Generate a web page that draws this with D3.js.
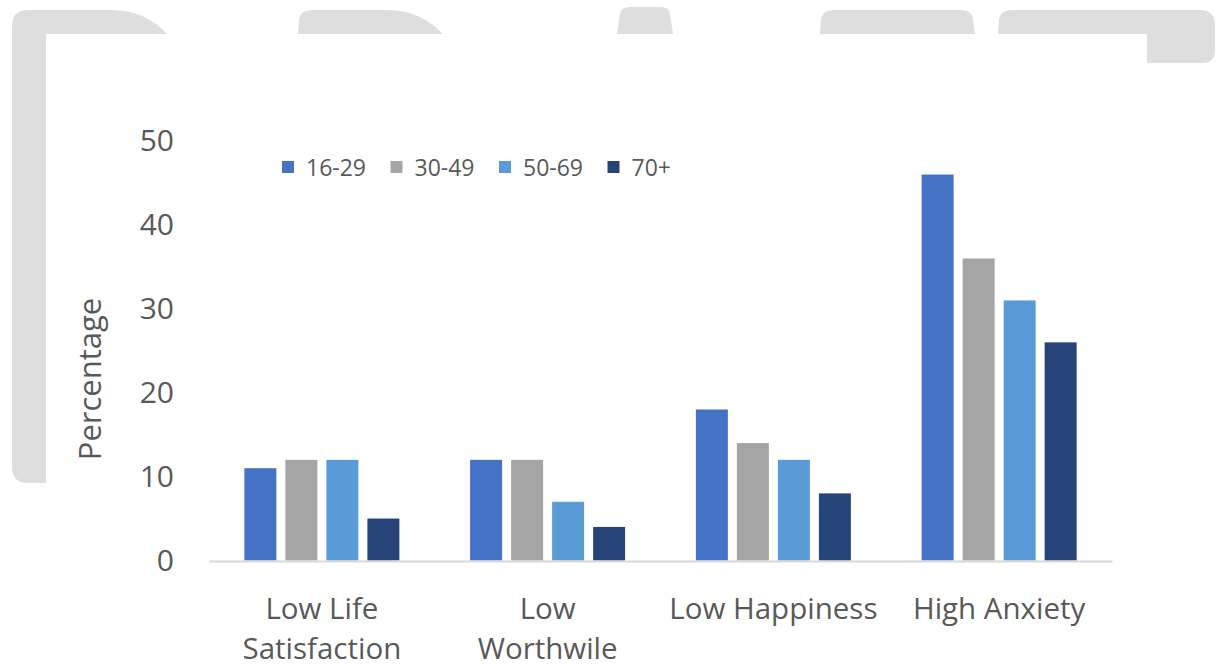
<!DOCTYPE html>
<html>
<head>
<meta charset="utf-8">
<script src="https://cdn.jsdelivr.net/npm/d3@7"></script>
<style>
  html, body { margin: 0; padding: 0; background: #fff; }
  svg { display: block; }
  text { font-family: "Open Sans", "Noto Sans", sans-serif; fill: #595959; }
</style>
</head>
<body>
<svg id="chart" width="1217" height="667"></svg>
<script>
// ---- data ----
const categories = ["Low Life Satisfaction", "Low Worthwile", "Low Happiness", "High Anxiety"];
const categoryLines = [["Low Life", "Satisfaction"], ["Low", "Worthwile"], ["Low Happiness"], ["High Anxiety"]];
const series = ["16-29", "30-49", "50-69", "70+"];
const values1629 = [11, 12, 18, 46];
const values3049 = [12, 12, 14, 36];
const values5069 = [12, 7, 12, 31];
const values70 = [5, 4, 8, 26];
const yTicks = [0, 10, 20, 30, 40, 50];
const colors = ["#4472C4", "#A5A5A5", "#5B9BD5", "#264478"];

const seriesValues = [values1629, values3049, values5069, values70];

const svg = d3.select("#chart");

// ---- decorative watermark shapes in the background ----
const wm = svg.append("g").attr("fill", "#dedede");
wm.append("path").attr("d",
  "M12,26 Q12,10 28,10 L112,10 Q145,10 167,34 L46,34 L46,483 L28,483 Q12,483 12,467 Z");
wm.append("path").attr("d",
  "M298,34 L299,20 Q300,10 312,10 L388,10 Q420,10 443,34 Z");
wm.append("path").attr("d",
  "M617,34 L620,14 Q621,7 630,7 L661,7 Q669,7 670,14 L673,34 Z");
wm.append("path").attr("d",
  "M820,34 L821,20 Q822,10 834,10 L962,10 Q972,10 973,20 L975,34 Z");
wm.append("path").attr("d",
  "M998,34 L999,20 Q1000,10 1012,10 L1200,10 Q1215,10 1215,25 L1215,50 Q1215,63 1202,63 L1147,63 L1147,34 Z");

// ---- scales ----
const x0 = d3.scaleBand().domain(categories).range([209, 1112]).paddingInner(0.3134).paddingOuter(0.1567);
const x1 = d3.scaleBand().domain(series).range([0, x0.bandwidth()]).paddingInner(0.22);
const y = d3.scaleLinear().domain([0, 50]).range([560.5, 141]);
const color = d3.scaleOrdinal().domain(series).range(colors);

// ---- y axis ----
const yAxis = svg.append("g")
  .attr("transform", "translate(182,0)")
  .call(d3.axisLeft(y).tickValues(yTicks).tickSize(0).tickPadding(8));
yAxis.select(".domain").remove();
yAxis.selectAll("text")
  .attr("fill", "#595959")
  .style("font-family", '"Open Sans", sans-serif')
  .style("font-size", "30px");

// ---- bars ----
const groups = svg.append("g").selectAll("g")
  .data(categories)
  .join("g")
  .attr("transform", d => `translate(${x0(d)},0)`);

groups.selectAll("rect")
  .data((c, i) => series.map((s, j) => ({ s, v: seriesValues[j][i] })))
  .join("rect")
  .attr("x", d => x1(d.s))
  .attr("width", x1.bandwidth())
  .attr("y", d => y(d.v))
  .attr("height", d => y(0) - y(d.v))
  .attr("fill", d => color(d.s));

// ---- x axis ----
const xAxis = svg.append("g")
  .attr("transform", "translate(0,561)")
  .call(d3.axisBottom(x0).tickSize(0).tickSizeOuter(0).tickFormat(""));
xAxis.select(".domain").attr("stroke", "#d9d9d9").attr("stroke-width", 2);
xAxis.selectAll(".tick text").remove();
xAxis.selectAll(".tick").each(function(d, i) {
  const t = d3.select(this).append("text")
    .attr("text-anchor", "middle")
    .attr("fill", "#595959")
    .style("font-size", "29.5px");
  categoryLines[i].forEach((line, k) => {
    t.append("tspan").attr("x", 0).attr("y", 58 + k * 40).text(line);
  });
});

// ---- y axis title ----
svg.append("text")
  .attr("transform", "translate(101,379) rotate(-90)")
  .attr("text-anchor", "middle")
  .style("font-size", "31px")
  .text("Percentage");

// ---- legend ----
const legend = svg.append("g").attr("transform", "translate(282,161)");
const li = legend.selectAll("g")
  .data(series)
  .join("g")
  .attr("transform", (d, i) => `translate(${i * 108.5},0)`);
li.append("rect").attr("width", 12).attr("height", 12).attr("fill", d => color(d));
li.append("text").attr("x", 24).attr("y", 14.5).style("font-size", "23px").text(d => d);
</script>
</body>
</html>
